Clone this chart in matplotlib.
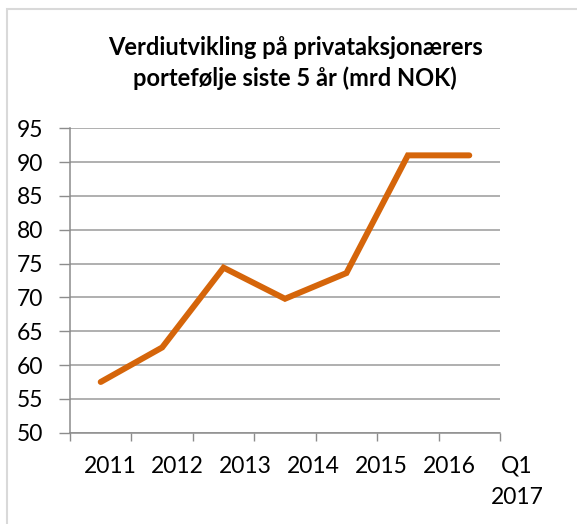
import matplotlib

matplotlib.use("Agg")
import matplotlib.pyplot as plt
import numpy as np
from matplotlib.patches import Rectangle

# data
categories = ["2011", "2012", "2013", "2014", "2015", "2016", "Q1\n2017"]
values = [57.5, 62.6, 74.4, 69.8, 73.6, 91.0, 91.0]
y_ticks = [50, 55, 60, 65, 70, 75, 80, 85, 90, 95]
title = "Verdiutvikling på privataksjonærers\nportefølje siste 5 år (mrd NOK)"

LINE_COLOR = "#D5650A"
GRID_COLOR = "#9A9A9A"
AXIS_COLOR = "#8C8C8C"

plt.rcParams["font.family"] = ["Lato", "DejaVu Sans"]

fig = plt.figure(figsize=(5.77, 5.24), dpi=100)
ax = fig.add_axes([70 / 577, 1 - 432.7 / 524, 430 / 577, (432.7 - 128.3) / 524])

x = np.arange(len(categories))
ax.plot(x, values, color=LINE_COLOR, linewidth=4.3, solid_capstyle="round", solid_joinstyle="miter")

ax.set_xlim(-0.5, len(categories) - 0.5)
ax.set_ylim(min(y_ticks), max(y_ticks))
ax.set_yticks(y_ticks)
ax.set_yticklabels([str(v) for v in y_ticks], fontsize=16.5)
ax.yaxis.grid(True, color=GRID_COLOR, linewidth=1.1)
ax.set_axisbelow(True)

# x ticks sit on category boundaries, labels are placed separately
ax.set_xticks(np.arange(len(categories) + 1) - 0.5)
ax.set_xticklabels([])
ax.tick_params(axis="x", length=6, width=1.0, color=AXIS_COLOR, direction="out")
ax.tick_params(axis="y", length=8, width=1.0, color=AXIS_COLOR, pad=11, labelcolor="black")

for side in ["top", "right"]:
    ax.spines[side].set_visible(False)
for side in ["left", "bottom"]:
    ax.spines[side].set_color(AXIS_COLOR)
    ax.spines[side].set_linewidth(1.1)

for i, label in enumerate(categories):
    ax.text(0.093 + i * 0.1577, -0.076, label, transform=ax.transAxes,
            ha="center", va="top", fontsize=16.5, linespacing=1.6)

fig.text(295 / 577, 1 - 63 / 524, title, ha="center", va="center",
         fontsize=17, fontweight="bold", linespacing=1.4)

fig.patches.append(Rectangle((7 / 577, -0.1), 1.2, 1 - 9 / 524 + 0.1, transform=fig.transFigure,
                             fill=False, edgecolor="#D9D9D9", linewidth=1.5))

fig.savefig("out.png", dpi=100)
